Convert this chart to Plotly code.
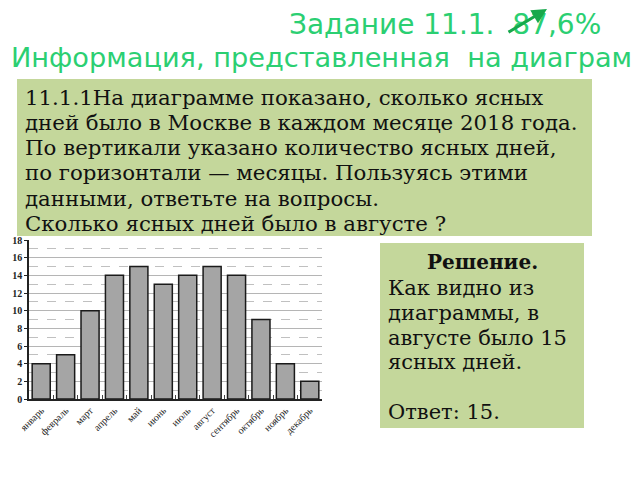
import plotly.graph_objects as go

# --- data ---
months = ["январь", "февраль", "март", "апрель", "май", "июнь",
          "июль", "август", "сентябрь", "октябрь", "ноябрь", "декабрь"]
clear_days = [4, 5, 10, 14, 15, 13, 14, 15, 14, 9, 4, 2]
y_ticks = [0, 2, 4, 6, 8, 10, 12, 14, 16, 18]

title_1 = "Задание 11.1.  87,6%"
title_2 = "Информация, представленная  на диаграмме"
task_lines = [
    "11.1.1На диаграмме показано, сколько ясных",
    "дней было в Москве в каждом месяце 2018 года.",
    "По вертикали указано количество ясных дней,",
    "по горизонтали — месяцы. Пользуясь этими",
    "данными, ответьте на вопросы.",
    "Сколько ясных дней было в августе ?",
]
answer_lines = [
    "Как видно из",
    "диаграммы, в",
    "августе было 15",
    "ясных дней.",
    "",
    "Ответ: 15.",
]

W, H = 640, 480
OFF = 8  # page body margin
GREEN_TXT = "#2bcf72"
BOX = "#c4d79b"


def px(x):
    return (x - OFF) / W


def py(y):
    return 1 - (y - OFF) / H


fig = go.Figure(go.Bar(
    x=months, y=clear_days,
    marker=dict(color="#a5a5a5", line=dict(color="#1a1a1a", width=1.5)),
))

fig.update_layout(
    width=W, height=H,
    margin=dict(l=0, r=0, t=0, b=0),
    paper_bgcolor="white", plot_bgcolor="white",
    showlegend=False,
    bargap=0.26,
    xaxis=dict(
        domain=[px(29), px(322)],
        automargin=False,
        tickangle=-45,
        tickfont=dict(family="Liberation Serif", size=10, color="#222222"),
        showline=True, linecolor="#222222", linewidth=1.5,
        ticks="inside", tickson="boundaries", ticklen=4, tickcolor="#444444",
        showgrid=False,
    ),
    yaxis=dict(
        domain=[py(399), py(240)],
        automargin=False,
        range=[0, 18],
        tickvals=y_ticks,
        tickfont=dict(family="Liberation Serif", size=10, color="#222222", weight="bold"),
        showline=True, linecolor="#222222", linewidth=1.5,
        ticks="outside", ticklen=3, tickcolor="#222222",
        showgrid=True, gridcolor="#b5b5b5", gridwidth=1,
        minor=dict(dtick=1, showgrid=True, gridcolor="#c0c0c0", griddash="dash", gridwidth=1),
        zeroline=False,
    ),
)

shapes = [
    dict(type="rect", xref="paper", yref="paper",
         x0=px(17), x1=px(592), y0=py(236), y1=py(79),
         fillcolor=BOX, line=dict(width=0), layer="below"),
    dict(type="rect", xref="paper", yref="paper",
         x0=px(380), x1=px(584), y0=py(428), y1=py(243),
         fillcolor=BOX, line=dict(width=0), layer="below"),
]
fig.update_layout(shapes=shapes)

ann = []
ann.append(dict(text=title_1, x=px(445), y=py(25), xref="paper", yref="paper",
                showarrow=False, xanchor="center", yanchor="middle",
                font=dict(family="DejaVu Sans", size=28, color=GREEN_TXT)))
ann.append(dict(text=title_2, x=px(9), y=py(58), xref="paper", yref="paper",
                showarrow=False, xanchor="left", yanchor="middle",
                font=dict(family="DejaVu Sans", size=27.2, color=GREEN_TXT)))
# green arrow crossing the "8"
ann.append(dict(x=px(547), y=py(8), ax=-40, ay=25,
                xref="paper", yref="paper", axref="pixel", ayref="pixel",
                text="", showarrow=True, arrowhead=2, arrowsize=1,
                arrowwidth=3, arrowcolor="#17a84c"))

for i, line in enumerate(task_lines):
    ann.append(dict(text=line, x=px(23), y=py(97 + i * 25.3), xref="paper", yref="paper",
                    showarrow=False, xanchor="left", yanchor="middle",
                    font=dict(family="DejaVu Serif", size=21.3, color="#111111")))

ann.append(dict(text="<b>Решение.</b>", x=px(482), y=py(262), xref="paper", yref="paper",
                showarrow=False, xanchor="center", yanchor="middle",
                font=dict(family="DejaVu Serif", size=20, color="#111111")))
for i, line in enumerate(answer_lines):
    if not line:
        continue
    ann.append(dict(text=line, x=px(386), y=py(288 + i * 24.8), xref="paper", yref="paper",
                    showarrow=False, xanchor="left", yanchor="middle",
                    font=dict(family="DejaVu Serif", size=21, color="#111111")))

fig.update_layout(annotations=ann)

fig.write_html("out.html")
